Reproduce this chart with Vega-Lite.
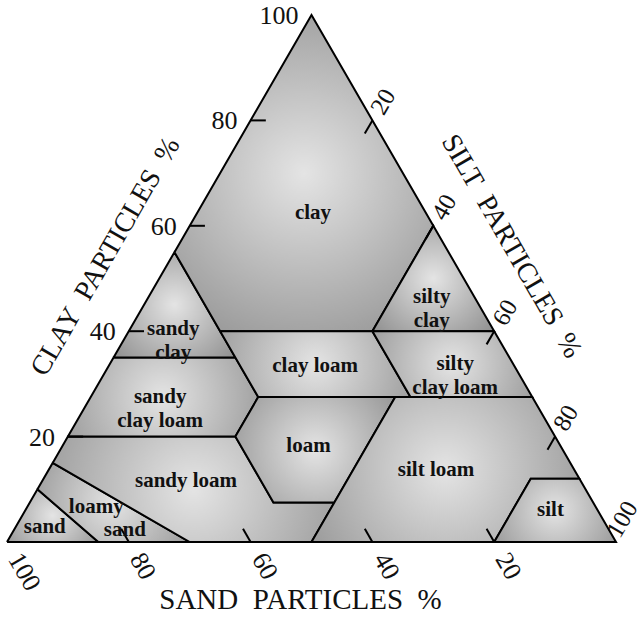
{
  "$schema": "https://vega.github.io/schema/vega-lite/v6.json",
  "autosize": "none",
  "width": 609,
  "height": 527,
  "padding": {"left": 7, "top": 15, "right": 27, "bottom": 75},
  "background": "white",
  "config": {"view": {"stroke": null}},
  "datasets": {
    "classes": [
      {"region": "sand", "i": 0, "sand": 100, "clay": 0, "silt": 0},
      {"region": "sand", "i": 1, "sand": 90, "clay": 10, "silt": 0},
      {"region": "sand", "i": 2, "sand": 85, "clay": 0, "silt": 15},
      {"region": "sand", "i": 3, "sand": 100, "clay": 0, "silt": 0},

      {"region": "loamy sand", "i": 0, "sand": 90, "clay": 10, "silt": 0},
      {"region": "loamy sand", "i": 1, "sand": 85, "clay": 15, "silt": 0},
      {"region": "loamy sand", "i": 2, "sand": 70, "clay": 0, "silt": 30},
      {"region": "loamy sand", "i": 3, "sand": 85, "clay": 0, "silt": 15},
      {"region": "loamy sand", "i": 4, "sand": 90, "clay": 10, "silt": 0},

      {"region": "sandy loam", "i": 0, "sand": 85, "clay": 15, "silt": 0},
      {"region": "sandy loam", "i": 1, "sand": 80, "clay": 20, "silt": 0},
      {"region": "sandy loam", "i": 2, "sand": 52.5, "clay": 20, "silt": 27.5},
      {"region": "sandy loam", "i": 3, "sand": 52.5, "clay": 7.5, "silt": 40},
      {"region": "sandy loam", "i": 4, "sand": 42.5, "clay": 7.5, "silt": 50},
      {"region": "sandy loam", "i": 5, "sand": 50, "clay": 0, "silt": 50},
      {"region": "sandy loam", "i": 6, "sand": 70, "clay": 0, "silt": 30},
      {"region": "sandy loam", "i": 7, "sand": 85, "clay": 15, "silt": 0},

      {"region": "sandy clay loam", "i": 0, "sand": 80, "clay": 20, "silt": 0},
      {"region": "sandy clay loam", "i": 1, "sand": 65, "clay": 35, "silt": 0},
      {"region": "sandy clay loam", "i": 2, "sand": 45, "clay": 35, "silt": 20},
      {"region": "sandy clay loam", "i": 3, "sand": 45, "clay": 27.5, "silt": 27.5},
      {"region": "sandy clay loam", "i": 4, "sand": 52.5, "clay": 20, "silt": 27.5},
      {"region": "sandy clay loam", "i": 5, "sand": 80, "clay": 20, "silt": 0},

      {"region": "sandy clay", "i": 0, "sand": 65, "clay": 35, "silt": 0},
      {"region": "sandy clay", "i": 1, "sand": 45, "clay": 55, "silt": 0},
      {"region": "sandy clay", "i": 2, "sand": 45, "clay": 35, "silt": 20},
      {"region": "sandy clay", "i": 3, "sand": 65, "clay": 35, "silt": 0},

      {"region": "clay", "i": 0, "sand": 45, "clay": 55, "silt": 0},
      {"region": "clay", "i": 1, "sand": 0, "clay": 100, "silt": 0},
      {"region": "clay", "i": 2, "sand": 0, "clay": 60, "silt": 40},
      {"region": "clay", "i": 3, "sand": 20, "clay": 40, "silt": 40},
      {"region": "clay", "i": 4, "sand": 45, "clay": 40, "silt": 15},
      {"region": "clay", "i": 5, "sand": 45, "clay": 55, "silt": 0},

      {"region": "clay loam", "i": 0, "sand": 45, "clay": 40, "silt": 15},
      {"region": "clay loam", "i": 1, "sand": 20, "clay": 40, "silt": 40},
      {"region": "clay loam", "i": 2, "sand": 20, "clay": 27.5, "silt": 52.5},
      {"region": "clay loam", "i": 3, "sand": 45, "clay": 27.5, "silt": 27.5},
      {"region": "clay loam", "i": 4, "sand": 45, "clay": 40, "silt": 15},

      {"region": "silty clay", "i": 0, "sand": 20, "clay": 40, "silt": 40},
      {"region": "silty clay", "i": 1, "sand": 0, "clay": 60, "silt": 40},
      {"region": "silty clay", "i": 2, "sand": 0, "clay": 40, "silt": 60},
      {"region": "silty clay", "i": 3, "sand": 20, "clay": 40, "silt": 40},

      {"region": "silty clay loam", "i": 0, "sand": 20, "clay": 40, "silt": 40},
      {"region": "silty clay loam", "i": 1, "sand": 0, "clay": 40, "silt": 60},
      {"region": "silty clay loam", "i": 2, "sand": 0, "clay": 27.5, "silt": 72.5},
      {"region": "silty clay loam", "i": 3, "sand": 20, "clay": 27.5, "silt": 52.5},
      {"region": "silty clay loam", "i": 4, "sand": 20, "clay": 40, "silt": 40},

      {"region": "loam", "i": 0, "sand": 45, "clay": 27.5, "silt": 27.5},
      {"region": "loam", "i": 1, "sand": 22.5, "clay": 27.5, "silt": 50},
      {"region": "loam", "i": 2, "sand": 42.5, "clay": 7.5, "silt": 50},
      {"region": "loam", "i": 3, "sand": 52.5, "clay": 7.5, "silt": 40},
      {"region": "loam", "i": 4, "sand": 52.5, "clay": 20, "silt": 27.5},
      {"region": "loam", "i": 5, "sand": 45, "clay": 27.5, "silt": 27.5},

      {"region": "silt loam", "i": 0, "sand": 22.5, "clay": 27.5, "silt": 50},
      {"region": "silt loam", "i": 1, "sand": 0, "clay": 27.5, "silt": 72.5},
      {"region": "silt loam", "i": 2, "sand": 0, "clay": 12, "silt": 88},
      {"region": "silt loam", "i": 3, "sand": 8, "clay": 12, "silt": 80},
      {"region": "silt loam", "i": 4, "sand": 20, "clay": 0, "silt": 80},
      {"region": "silt loam", "i": 5, "sand": 50, "clay": 0, "silt": 50},
      {"region": "silt loam", "i": 6, "sand": 42.5, "clay": 7.5, "silt": 50},
      {"region": "silt loam", "i": 7, "sand": 22.5, "clay": 27.5, "silt": 50},

      {"region": "silt", "i": 0, "sand": 20, "clay": 0, "silt": 80},
      {"region": "silt", "i": 1, "sand": 8, "clay": 12, "silt": 80},
      {"region": "silt", "i": 2, "sand": 0, "clay": 12, "silt": 88},
      {"region": "silt", "i": 3, "sand": 0, "clay": 0, "silt": 100},
      {"region": "silt", "i": 4, "sand": 20, "clay": 0, "silt": 80}
    ],
    "names": [
      {"name": "clay", "sand": 18.5, "clay": 62.5, "silt": 19},
      {"name": "silty\nclay", "sand": 7, "clay": 46.5, "silt": 46.5},
      {"name": "sandy\nclay", "sand": 52.5, "clay": 40.4, "silt": 7.1},
      {"name": "clay loam", "sand": 32.7, "clay": 33.4, "silt": 33.9},
      {"name": "silty\nclay loam", "sand": 9.5, "clay": 33.8, "silt": 56.7},
      {"name": "sandy\nclay loam", "sand": 61.1, "clay": 27.5, "silt": 11.4},
      {"name": "loam", "sand": 41.4, "clay": 18.2, "silt": 40.4},
      {"name": "silt loam", "sand": 22.7, "clay": 13.7, "silt": 63.6},
      {"name": "sandy loam", "sand": 64.8, "clay": 11.6, "silt": 23.6},
      {"name": "silt", "sand": 7.7, "clay": 6.1, "silt": 86.2},
      {"name": "loamy", "sand": 82, "clay": 6.7, "silt": 11.3},
      {"name": "sand", "sand": 79.5, "clay": 2.3, "silt": 18.2},
      {"name": "sand", "sand": 92.4, "clay": 2.8, "silt": 4.8}
    ],
    "ticks": [
      {"side": "clay", "v": 20, "clay": 20, "silt": 0, "clay2": 20, "silt2": 2.5},
      {"side": "clay", "v": 40, "clay": 40, "silt": 0, "clay2": 40, "silt2": 2.5},
      {"side": "clay", "v": 60, "clay": 60, "silt": 0, "clay2": 60, "silt2": 2.5},
      {"side": "clay", "v": 80, "clay": 80, "silt": 0, "clay2": 80, "silt2": 2.5},
      {"side": "silt", "v": 20, "clay": 80, "silt": 20, "clay2": 77.5, "silt2": 20},
      {"side": "silt", "v": 40, "clay": 60, "silt": 40, "clay2": 57.5, "silt2": 40},
      {"side": "silt", "v": 60, "clay": 40, "silt": 60, "clay2": 37.5, "silt2": 60},
      {"side": "silt", "v": 80, "clay": 20, "silt": 80, "clay2": 17.5, "silt2": 80},
      {"side": "sand", "v": 80, "clay": 0, "silt": 20, "clay2": 2.5, "silt2": 17.5},
      {"side": "sand", "v": 60, "clay": 0, "silt": 40, "clay2": 2.5, "silt2": 37.5},
      {"side": "sand", "v": 40, "clay": 0, "silt": 60, "clay2": 2.5, "silt2": 57.5},
      {"side": "sand", "v": 20, "clay": 0, "silt": 80, "clay2": 2.5, "silt2": 77.5}
    ],
    "scale": [
      {"side": "clay", "v": "20", "clay": 20, "silt": 0},
      {"side": "clay", "v": "40", "clay": 40, "silt": 0},
      {"side": "clay", "v": "60", "clay": 60, "silt": 0},
      {"side": "clay", "v": "80", "clay": 80, "silt": 0},
      {"side": "clay", "v": "100", "clay": 100, "silt": 0},
      {"side": "silt", "v": "20", "clay": 80, "silt": 20},
      {"side": "silt", "v": "40", "clay": 60, "silt": 40},
      {"side": "silt", "v": "60", "clay": 40, "silt": 60},
      {"side": "silt", "v": "80", "clay": 20, "silt": 80},
      {"side": "silt", "v": "100", "clay": 0, "silt": 100},
      {"side": "sand", "v": "100", "clay": 0, "silt": 0},
      {"side": "sand", "v": "80", "clay": 0, "silt": 20},
      {"side": "sand", "v": "60", "clay": 0, "silt": 40},
      {"side": "sand", "v": "40", "clay": 0, "silt": 60},
      {"side": "sand", "v": "20", "clay": 0, "silt": 80}
    ],
    "titles": [
      {"side": "clay", "title": "CLAY\u00a0 PARTICLES\u00a0 %", "clay": 50, "silt": 0},
      {"side": "silt", "title": "SILT\u00a0 PARTICLES\u00a0 %", "clay": 50, "silt": 50},
      {"side": "sand", "title": "SAND\u00a0 PARTICLES\u00a0 %", "clay": 0, "silt": 50}
    ]
  },
  "layer": [
    {
      "data": {"name": "classes"},
      "transform": [{"calculate": "datum.silt + datum.clay / 2", "as": "px"}],
      "mark": {
        "type": "line",
        "stroke": "#000000",
        "strokeWidth": 2,
        "fill": {
          "gradient": "radial",
          "x1": 0.5, "y1": 0.5, "r1": 0,
          "x2": 0.5, "y2": 0.5, "r2": 0.72,
          "stops": [
            {"offset": 0, "color": "#e4e4e4"},
            {"offset": 1, "color": "#878787"}
          ]
        }
      },
      "encoding": {
        "x": {"field": "px", "type": "quantitative", "scale": {"domain": [0, 100]}, "axis": null},
        "y": {"field": "clay", "type": "quantitative", "scale": {"domain": [0, 100]}, "axis": null},
        "detail": {"field": "region"},
        "order": {"field": "i", "type": "quantitative"}
      }
    },
    {
      "data": {"name": "ticks"},
      "transform": [
        {"calculate": "datum.silt + datum.clay / 2", "as": "px"},
        {"calculate": "datum.silt2 + datum.clay2 / 2", "as": "px2"}
      ],
      "mark": {"type": "rule", "stroke": "#000000", "strokeWidth": 2},
      "encoding": {
        "x": {"field": "px", "type": "quantitative", "scale": {"domain": [0, 100]}, "axis": null},
        "y": {"field": "clay", "type": "quantitative", "scale": {"domain": [0, 100]}, "axis": null},
        "x2": {"field": "px2"},
        "y2": {"field": "clay2"}
      }
    },
    {
      "data": {"name": "names"},
      "transform": [{"calculate": "datum.silt + datum.clay / 2", "as": "px"}],
      "mark": {"type": "text", "font": "Liberation Serif", "fontWeight": "bold", "fontSize": 21, "lineBreak": "\n", "lineHeight": 24, "align": "center", "baseline": "middle", "color": "#111111"},
      "encoding": {
        "x": {"field": "px", "type": "quantitative", "scale": {"domain": [0, 100]}, "axis": null},
        "y": {"field": "clay", "type": "quantitative", "scale": {"domain": [0, 100]}, "axis": null},
        "text": {"field": "name"}
      }
    },
    {
      "data": {"name": "scale"},
      "transform": [{"filter": "datum.side === 'clay'"}, {"calculate": "datum.silt + datum.clay / 2", "as": "px"}],
      "mark": {"type": "text", "font": "Liberation Serif", "fontSize": 26, "align": "right", "baseline": "middle", "dx": -13, "dy": 1, "color": "#111111"},
      "encoding": {
        "x": {"field": "px", "type": "quantitative", "scale": {"domain": [0, 100]}, "axis": null},
        "y": {"field": "clay", "type": "quantitative", "scale": {"domain": [0, 100]}, "axis": null},
        "text": {"field": "v"}
      }
    },
    {
      "data": {"name": "scale"},
      "transform": [{"filter": "datum.side === 'silt' && datum.v !== '100'"}, {"calculate": "datum.silt + datum.clay / 2", "as": "px"}],
      "mark": {"type": "text", "font": "Liberation Serif", "fontSize": 25, "align": "left", "baseline": "middle", "angle": -60, "dx": 9, "color": "#111111"},
      "encoding": {
        "x": {"field": "px", "type": "quantitative", "scale": {"domain": [0, 100]}, "axis": null},
        "y": {"field": "clay", "type": "quantitative", "scale": {"domain": [0, 100]}, "axis": null},
        "text": {"field": "v"}
      }
    },
    {
      "data": {"name": "scale"},
      "transform": [{"filter": "datum.side === 'silt' && datum.v === '100'"}, {"calculate": "datum.silt + datum.clay / 2", "as": "px"}],
      "mark": {"type": "text", "font": "Liberation Serif", "fontSize": 25, "align": "left", "baseline": "middle", "angle": -60, "dx": 4, "dy": -6, "color": "#111111"},
      "encoding": {
        "x": {"field": "px", "type": "quantitative", "scale": {"domain": [0, 100]}, "axis": null},
        "y": {"field": "clay", "type": "quantitative", "scale": {"domain": [0, 100]}, "axis": null},
        "text": {"field": "v"}
      }
    },
    {
      "data": {"name": "scale"},
      "transform": [{"filter": "datum.side === 'sand'"}, {"calculate": "datum.silt + datum.clay / 2", "as": "px"}],
      "mark": {"type": "text", "font": "Liberation Serif", "fontSize": 26, "align": "left", "baseline": "middle", "angle": 60, "dx": 15, "color": "#111111"},
      "encoding": {
        "x": {"field": "px", "type": "quantitative", "scale": {"domain": [0, 100]}, "axis": null},
        "y": {"field": "clay", "type": "quantitative", "scale": {"domain": [0, 100]}, "axis": null},
        "text": {"field": "v"}
      }
    },
    {
      "data": {"name": "titles"},
      "transform": [{"filter": "datum.side === 'clay'"}, {"calculate": "datum.silt + datum.clay / 2", "as": "px"}],
      "mark": {"type": "text", "font": "Liberation Serif", "fontSize": 28, "align": "center", "baseline": "middle", "angle": -60, "dx": -8, "dy": -57, "color": "#111111"},
      "encoding": {
        "x": {"field": "px", "type": "quantitative", "scale": {"domain": [0, 100]}, "axis": null},
        "y": {"field": "clay", "type": "quantitative", "scale": {"domain": [0, 100]}, "axis": null},
        "text": {"field": "title"}
      }
    },
    {
      "data": {"name": "titles"},
      "transform": [{"filter": "datum.side === 'silt'"}, {"calculate": "datum.silt + datum.clay / 2", "as": "px"}],
      "mark": {"type": "text", "font": "Liberation Serif", "fontSize": 28, "align": "center", "baseline": "middle", "angle": 60, "dx": -4, "dy": -57, "color": "#111111"},
      "encoding": {
        "x": {"field": "px", "type": "quantitative", "scale": {"domain": [0, 100]}, "axis": null},
        "y": {"field": "clay", "type": "quantitative", "scale": {"domain": [0, 100]}, "axis": null},
        "text": {"field": "title"}
      }
    },
    {
      "data": {"name": "titles"},
      "transform": [{"filter": "datum.side === 'sand'"}, {"calculate": "datum.silt + datum.clay / 2", "as": "px"}],
      "mark": {"type": "text", "font": "Liberation Serif", "fontSize": 29, "align": "center", "baseline": "middle", "dx": -11, "dy": 58, "color": "#111111"},
      "encoding": {
        "x": {"field": "px", "type": "quantitative", "scale": {"domain": [0, 100]}, "axis": null},
        "y": {"field": "clay", "type": "quantitative", "scale": {"domain": [0, 100]}, "axis": null},
        "text": {"field": "title"}
      }
    }
  ]
}
